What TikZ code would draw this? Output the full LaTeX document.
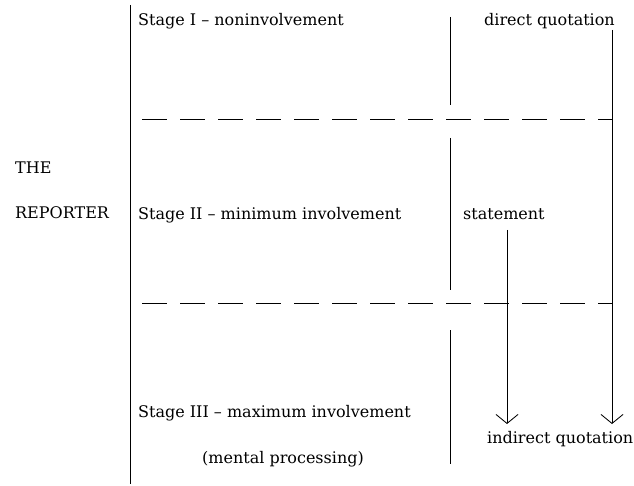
\documentclass[tikz,border=0pt]{standalone}
\usepackage{fontspec}
\setmainfont{DejaVu Serif}
\usetikzlibrary{arrows.meta}
\begin{document}
\begin{tikzpicture}[x=1pt,y=-1pt,
  lbl/.style={anchor=base west,inner sep=0pt,font=\fontsize{16}{19}\selectfont},
  rule/.style={line width=0.85pt},
  dashrule/.style={line width=0.85pt,dash pattern=on 25pt off 13pt},
  flow/.style={line width=0.85pt,-{Straight Barb[length=9pt,width=22pt,line width=0.85pt]}}]
\useasboundingbox (0,0) rectangle (634,486);
% column rules
\draw[rule] (130,5) -- (130,484);
\draw[rule] (450,17) -- (450,105);
\draw[rule] (450,138) -- (450,290);
\draw[rule] (450,330) -- (450,464);
% stage separators
\draw[dashrule] (142,119) -- (612,119);
\draw[dashrule] (142,303) -- (612,303);
% labels
\node[lbl] (the) at (15,174) {THE};
\node[lbl] (rep) at (15,219) {REPORTER};
\node[lbl] (s1) at (138,26) {Stage I -- noninvolvement};
\node[lbl] (s2) at (138,220) {Stage II -- minimum involvement};
\node[lbl] (s3) at (138,417) {Stage III -- maximum involvement};
\node[lbl] (mp) at (202,463) {(mental processing)};
\node[lbl] (dq) at (484,26) {direct quotation};
\node[lbl] (st) at (463,220) {statement};
\node[lbl] (iq) at (487,443) {indirect quotation};
% flows to indirect quotation
\coordinate (a1) at (507,424);
\coordinate (a2) at (612,424);
\draw[flow] (507,230) -- (a1);
\draw[flow] (612,30) -- (a2);
\end{tikzpicture}
\end{document}
